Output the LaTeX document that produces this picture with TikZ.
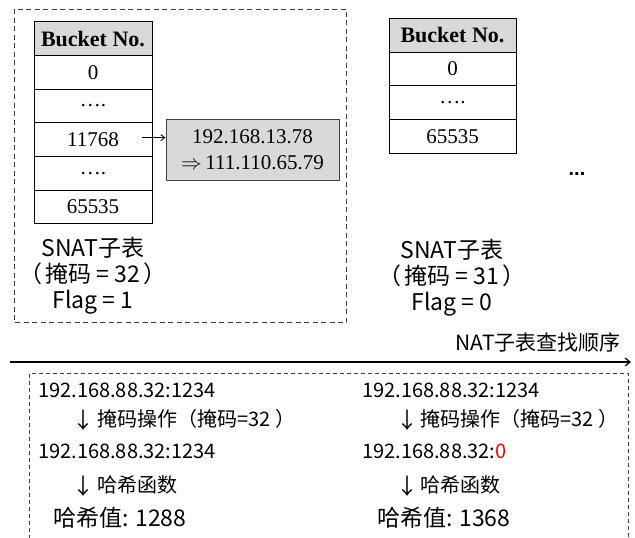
\documentclass[tikz,border=0pt]{standalone}
\usepackage{fontspec}
\usetikzlibrary{arrows.meta}
\newfontfamily\cjk{Noto Sans CJK SC}
\newfontfamily\tnr{Liberation Serif}
\newfontfamily\lsans{Liberation Sans}
\definecolor{cellgray}{HTML}{D9D9D9}
\definecolor{dashgray}{HTML}{404040}
\tikzset{
  cellL/.style={draw=black, line width=0.9pt, minimum width=118pt, minimum height=33.7pt, inner sep=0pt, font=\tnr\fontsize{21}{24}\selectfont},
  cellR/.style={draw=black, line width=0.9pt, minimum width=127pt, minimum height=33.75pt, inner sep=0pt, font=\tnr\fontsize{21}{24}\selectfont},
  headcell/.style={fill=cellgray, font=\tnr\bfseries\fontsize{22}{26}\selectfont},
  entrybox/.style={draw=dashgray, fill=cellgray, line width=1pt, minimum width=173pt, minimum height=61pt, inner sep=0pt, align=center, font=\tnr\fontsize{21}{26}\selectfont},
  tlabel/.style={align=center, inner sep=0pt, font=\cjk\fontsize{23}{26}\selectfont},
  btext/.style={anchor=west, inner sep=0pt, font=\cjk\fontsize{20}{24}\selectfont},
  bbig/.style={anchor=west, inner sep=0pt, font=\cjk\fontsize{23}{26}\selectfont},
  downarr/.style={inner sep=0pt, font=\cjk\fontsize{22}{24}\selectfont},
  dashbox/.style={draw=dashgray, line width=0.9pt, dash pattern=on 5pt off 3.5pt},
  dashbox2/.style={draw=dashgray, line width=0.9pt, dash pattern=on 4pt off 3pt},
}
\begin{document}
\begin{tikzpicture}[x=1pt,y=-1pt]
\useasboundingbox (0,0) rectangle (635,538);
\clip (0,0) rectangle (635,538);
\fill[white] (0,0) rectangle (635,538);

% top-left dashed frame
\draw[dashbox] (14,9.3) rectangle (346.7,322.7);

% left table
\node[cellL,headcell] (lh) at (93,38.55) {Bucket No.};
\node[cellL] (l0) at (93,72.25) {0};
\node[cellL] (l1) at (93,105.95) {….};
\node[cellL] (l2) at (93,139.65) {11768};
\node[cellL] (l3) at (93,173.35) {….};
\node[cellL] (l4) at (93,207.05) {65535};

\node[entrybox] (ent) at (252.5,149.5) {192.168.13.78\\$\Rightarrow$\,111.110.65.79};
\draw[-{Straight Barb[length=4pt,width=6pt]}, line width=0.9pt] ([xshift=-10pt,yshift=2pt]l2.east) -- ([yshift=2pt]l2.east -| ent.west);

\node[tlabel] (llab) at (93,276) {SNAT子表\\（\kern3pt 掩码 = 32\kern4pt）\\Flag = 1};

% right table
\node[cellR,headcell] (rh) at (452.5,35.2) {Bucket No.};
\node[cellR] (r0) at (452.5,68.95) {0};
\node[cellR] (r1) at (452.5,102.7) {….};
\node[cellR] (r2) at (452.5,136.45) {65535};

\node[inner sep=0pt, font=\lsans\bfseries\fontsize{20}{24}\selectfont] (dots) at (577,174) {...};

\node[tlabel] (rlab) at (452,278) {SNAT子表\\（\kern3pt 掩码 = 31\kern4pt）\\Flag = 0};

% order arrow
\coordinate (os) at (10,362);
\coordinate (oe) at (631,362);
\draw[-{Straight Barb[length=5pt,width=8pt]}, line width=1.2pt] (os) -- (oe);
\node[anchor=east, inner sep=0pt, font=\cjk\fontsize{21}{24}\selectfont] (ord) at (621,343) {NAT子表查找顺序};

% bottom dashed frame
\draw[dashbox2] (29,560) -- (29,373.5) -- (628,373.5) -- (628,560);

% left column
\node[btext] (a1) at (38,390) {192.168.88.32:1234};
\node[downarr] (a2a) at (83,420) {↓};
\node[btext] (a2) at (97,419) {掩码操作（掩码=32\kern5pt）};
\node[btext] (a3) at (38,451) {192.168.88.32:1234};
\node[downarr] (a4a) at (83,486) {↓};
\node[btext] (a4) at (97,485) {哈希函数};
\node[bbig] (a5) at (53,518) {哈希值: 1288};

% right column
\node[btext] (b1) at (362,390) {192.168.88.32:1234};
\node[downarr] (b2a) at (407,420) {↓};
\node[btext] (b2) at (420,419) {掩码操作（掩码=32\kern5pt）};
\node[btext] (b3) at (362,451) {192.168.88.32:\textcolor{red}{0}};
\node[downarr] (b4a) at (407,486) {↓};
\node[btext] (b4) at (420,485) {哈希函数};
\node[bbig] (b5) at (377,518) {哈希值: 1368};
\end{tikzpicture}
\end{document}
